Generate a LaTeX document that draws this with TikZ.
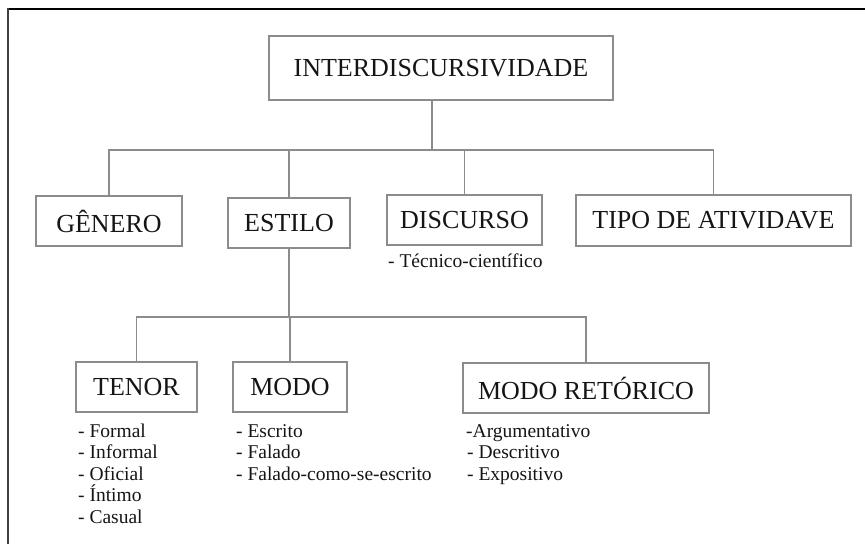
\documentclass[tikz,border=0pt]{standalone}
\usepackage{fontspec}
\setmainfont{Liberation Serif}
\definecolor{boxgray}{HTML}{8C8C8C}
\definecolor{linegray}{HTML}{8C8C8C}
\definecolor{inkc}{HTML}{151515}
\tikzset{
  box/.style={draw=boxgray, line width=1.2pt, rectangle, inner sep=0pt, text=inkc,
    font=\fontsize{26}{30}\selectfont, anchor=center},
  conn/.style={draw=linegray, line width=1.2pt},
  item/.style={anchor=base west, inner sep=0pt, text=inkc, font=\fontsize{19.5}{21.5}\selectfont},
}
\begin{document}
\begin{tikzpicture}[x=1pt,y=-1pt]
\useasboundingbox (0,0) rectangle (865,544);
% frame
\draw[line width=2pt, black] (8,8.5) -- (865,8.5);
\draw[line width=1.5pt, black!75] (8,8) -- (8,544);
% level 0
\node[box, minimum width=344pt, minimum height=64pt] (inter) at (441,68) {INTERDISCURSIVIDADE};
% level 1
\node[box, minimum width=146pt, minimum height=50pt] (genero) at (109,221) {GÊNERO};
\node[box, minimum width=122pt, minimum height=50pt] (estilo) at (289,223) {ESTILO};
\node[box, minimum width=155pt, minimum height=50pt] (discurso) at (464.5,220) {DISCURSO};
\node[box, minimum width=275pt, minimum height=51pt] (tipo) at (713.5,220.5) {TIPO DE ATIVIDAVE};
% level 2
\node[box, minimum width=121pt, minimum height=50pt] (tenor) at (136.5,387) {TENOR};
\node[box, minimum width=114pt, minimum height=50pt] (modo) at (290,387) {MODO};
\node[box, minimum width=246pt, minimum height=50pt] (retorico) at (586,388) {MODO RETÓRICO};
% hubs
\coordinate (hub1) at (432,150);
\coordinate (hub2) at (289,317);
% connectors level 0 -> 1
\draw[conn] (inter.south -| hub1) -- (hub1);
\draw[conn] (genero.north) |- (hub1) -| (tipo.north);
\draw[conn] (estilo.north) -- (estilo.north |- hub1);
\draw[conn] (discurso.north) -- (discurso.north |- hub1);
% connectors estilo -> level 2
\draw[conn] (estilo.south) -- (estilo.south |- hub2);
\draw[conn] (tenor.north) |- (hub2) -| (retorico.north);
\draw[conn] (modo.north) -- (modo.north |- hub2);
% lists
\node[item] (tec) at (388,267) {- Técnico-científico};
\node[item] (t1) at (78,437) {- Formal};
\node[item] (t2) at (78,458.5) {- Informal};
\node[item] (t3) at (78,480) {- Oficial};
\node[item] (t4) at (78,501.5) {- Íntimo};
\node[item] (t5) at (78,523) {- Casual};
\node[item] (m1) at (236,437) {- Escrito};
\node[item] (m2) at (236,458.5) {- Falado};
\node[item] (m3) at (236,480) {- Falado-como-se-escrito};
\node[item] (r1) at (466,437) {-Argumentativo};
\node[item] (r2) at (467,458.5) {- Descritivo};
\node[item] (r3) at (467,480) {- Expositivo};
\end{tikzpicture}
\end{document}
